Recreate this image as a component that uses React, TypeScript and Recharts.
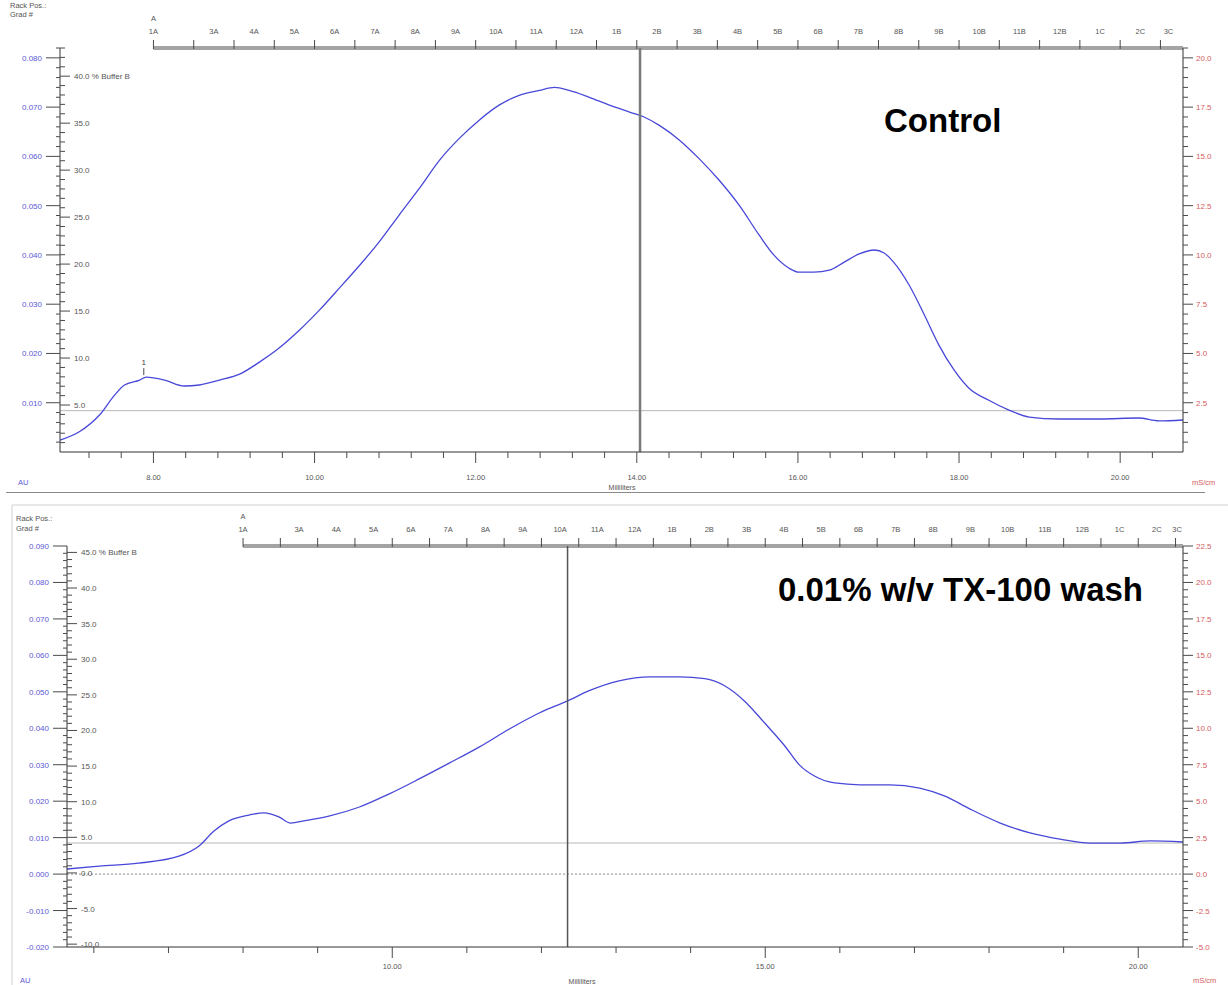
import React from "react";
import { ComposedChart, Line, XAxis, YAxis, ReferenceLine, ReferenceDot } from "recharts";

// ---- Control run (top trace): elution volume (ml) vs UV absorbance (AU)
const controlMl = [6.84, 7.08, 7.33, 7.52, 7.64, 7.83, 7.91, 8.14, 8.38, 8.57, 8.82, 9.07, 9.32, 9.56, 9.81, 10.06, 10.31, 10.56, 10.8, 11.05, 11.3, 11.55, 11.8, 12.04, 12.29, 12.54, 12.79, 12.98, 13.16, 13.41, 13.66, 13.91, 14.09, 14.28, 14.53, 14.77, 15.02, 15.27, 15.52, 15.7, 15.89, 16.01, 16.2, 16.39, 16.57, 16.76, 16.95, 17.07, 17.19, 17.38, 17.57, 17.75, 17.94, 18.12, 18.37, 18.62, 18.87, 19.24, 19.74, 20.23, 20.48, 20.78];
const controlAu = [0.0024, 0.0041, 0.0075, 0.0116, 0.0136, 0.0146, 0.0152, 0.0146, 0.0134, 0.0136, 0.0146, 0.0158, 0.0183, 0.0211, 0.0247, 0.0288, 0.0333, 0.0379, 0.0426, 0.0481, 0.0535, 0.0592, 0.0637, 0.0673, 0.0704, 0.0724, 0.0734, 0.074, 0.0734, 0.072, 0.0704, 0.069, 0.068, 0.0663, 0.0633, 0.0596, 0.0552, 0.0501, 0.044, 0.04, 0.0373, 0.0365, 0.0365, 0.0369, 0.0385, 0.0402, 0.041, 0.0404, 0.0385, 0.0339, 0.0278, 0.0217, 0.0166, 0.013, 0.0105, 0.0085, 0.0071, 0.0067, 0.0067, 0.0069, 0.0063, 0.0065];
const controlGradMl = [6.84, 20.78];
const controlGradB = [4.4, 4.4];

// ---- 0.01% TX-100 wash run (bottom trace)
const washMl = [5.64, 6.07, 6.6, 7.14, 7.41, 7.61, 7.81, 8.08, 8.28, 8.48, 8.64, 8.82, 9.15, 9.56, 9.96, 10.36, 10.77, 11.17, 11.57, 11.97, 12.35, 12.64, 13.04, 13.45, 13.85, 14.19, 14.46, 14.72, 14.99, 15.26, 15.46, 15.66, 15.93, 16.27, 16.67, 17.07, 17.41, 17.74, 18.15, 18.55, 18.95, 19.36, 19.76, 20.16, 20.6];
const washAu = [0.0014, 0.0022, 0.003, 0.0049, 0.0077, 0.0118, 0.0146, 0.0162, 0.0168, 0.0157, 0.014, 0.0146, 0.0159, 0.0184, 0.022, 0.0261, 0.0305, 0.0349, 0.0398, 0.0442, 0.0475, 0.0503, 0.053, 0.0541, 0.0541, 0.0536, 0.0516, 0.0475, 0.0415, 0.0352, 0.0299, 0.0269, 0.025, 0.0245, 0.0245, 0.0236, 0.0214, 0.0179, 0.014, 0.0113, 0.0096, 0.0085, 0.0085, 0.0091, 0.0088];
const washGradMl = [5.64, 20.6];
const washGradB = [4.2, 4.2];

// ---- fraction collector (rack positions)
const fractionBounds = [8.0, 8.5, 9.0, 9.5, 10.0, 10.5, 11.0, 11.5, 12.0, 12.5, 13.0, 13.5, 14.0, 14.5, 15.0, 15.5, 16.0, 16.5, 17.0, 17.5, 18.0, 18.5, 19.0, 19.5, 20.0, 20.5];
const fractionNames = ["1A", "3A", "4A", "5A", "6A", "7A", "8A", "9A", "10A", "11A", "12A", "1B", "2B", "3B", "4B", "5B", "6B", "7B", "8B", "9B", "10B", "11B", "12B", "1C", "2C", "3C"];
const fractionPos = [8.0, 8.75, 9.25, 9.75, 10.25, 10.75, 11.25, 11.75, 12.25, 12.75, 13.25, 13.75, 14.25, 14.75, 15.25, 15.75, 16.25, 16.75, 17.25, 17.75, 18.25, 18.75, 19.25, 19.75, 20.25, 20.6];

const FONT = "'Liberation Sans', Arial, Helvetica, sans-serif";
const INK = "#4a4a4a";
const TRACE = "#4848d8";
const AU_BLUE = "#5a5ad6";
const COND_RED = "#d65c5c";

const range = (a: number, b: number, s: number) => {
  const out: number[] = [];
  for (let v = a; v <= b + 1e-9; v += s) out.push(Math.round(v * 1e4) / 1e4);
  return out;
};
const isMul = (v: number, s: number) => Math.abs(v / s - Math.round(v / s)) < 1e-4;
const same = (a: number, b: number) => Math.abs(a - b) < 1e-6;

type PanelCfg = {
  width: number;
  height: number;
  left: number;
  right: number;
  top: number;
  bottom: number;
  xDomain: [number, number];
  xTicks: number[];
  xMajor: number;
  xLabelDy: number;
  auDomain: [number, number];
  auTicks: number[];
  bDomain: [number, number];
  bTicks: number[];
  sDomain: [number, number];
  sTicks: number[];
  ml: number[];
  au: number[];
  gradMl: number[];
  gradB: number[];
  cursorMl: number;
  cursorColor: string;
  cursorWidth: number;
  zeroLine: boolean;
  peak?: { ml: number; au: number; label: string };
};

function Panel(p: PanelCfg) {
  const rows = p.ml.map((ml, i) => ({ ml, au: p.au[i] }));
  const grad = p.gradMl.map((ml, i) => ({ ml, b: p.gradB[i] }));
  const xMax = p.xDomain[1];
  const auTop = p.auDomain[1];
  const bTop = Math.max(...p.bTicks.filter((v) => isMul(v, 5)));

  // last fraction label sits in the visible part of its interval
  const labelPos = fractionPos.map((v, i) => (i === fractionPos.length - 1 ? Math.min(v, xMax - 0.08) : v));
  const fracTicks = [...fractionBounds, ...labelPos.filter((v) => !fractionBounds.some((b) => same(b, v)))].sort((a, b) => a - b);

  const xTick = (props: any) => {
    const { x, y, payload } = props;
    const v = payload.value as number;
    const major = isMul(v, p.xMajor);
    return (
      <g>
        <line x1={x} x2={x} y1={y} y2={y + (major ? 11 : 6)} stroke={INK} />
        {major && (
          <text x={x} y={y + p.xLabelDy} textAnchor="middle" fontSize={7.5} fill="#555" fontFamily={FONT}>
            {v.toFixed(2)}
          </text>
        )}
      </g>
    );
  };

  const fracTick = (props: any) => {
    const { x, y, payload } = props;
    const v = payload.value as number;
    const bound = fractionBounds.some((b) => same(b, v));
    const li = labelPos.findIndex((b) => same(b, v));
    return (
      <g>
        {bound && <line x1={x} x2={x} y1={y - 8} y2={y + 1} stroke={INK} />}
        {li >= 0 && (
          <text x={x} y={y - 14} textAnchor="middle" fontSize={7.5} fill="#555" fontFamily={FONT}>
            {fractionNames[li]}
          </text>
        )}
        {li === 0 && (
          <text x={x} y={y - 27} textAnchor="middle" fontSize={7.5} fill="#555" fontFamily={FONT}>
            A
          </text>
        )}
      </g>
    );
  };

  const auTick = (props: any) => {
    const { x, y, payload } = props;
    const v = payload.value as number;
    const major = isMul(v, 0.01);
    return (
      <g>
        <line x1={x - (major ? 14 : 4)} x2={x} y1={y} y2={y} stroke={INK} />
        {major && (
          <text x={x - 18} y={y + 3} textAnchor="end" fontSize={8} fill={AU_BLUE} fontFamily={FONT}>
            {v.toFixed(3)}
          </text>
        )}
      </g>
    );
  };

  const bTick = (props: any) => {
    const { x, y, payload } = props;
    const v = payload.value as number;
    const major = isMul(v, 5);
    return (
      <g>
        <line x1={x} x2={x + (major ? 10 : 5)} y1={y} y2={y} stroke={INK} />
        {major && (
          <text x={x + 14} y={y + 3} textAnchor="start" fontSize={8} fill="#555" fontFamily={FONT}>
            {v.toFixed(1) + (same(v, bTop) ? "  % Buffer B" : "")}
          </text>
        )}
      </g>
    );
  };

  const sTick = (props: any) => {
    const { x, y, payload } = props;
    const v = payload.value as number;
    const major = isMul(v, 2.5);
    return (
      <g>
        <line x1={x} x2={x + (major ? 10 : 5)} y1={y} y2={y} stroke={INK} />
        {major && (
          <text x={x + 13} y={y + 3} textAnchor="start" fontSize={8} fill={COND_RED} fontFamily={FONT}>
            {v.toFixed(1)}
          </text>
        )}
      </g>
    );
  };

  return (
    <ComposedChart width={p.width} height={p.height} margin={{ top: 0, right: 0, bottom: 0, left: 0 }}>
      <XAxis
        xAxisId="ml"
        dataKey="ml"
        type="number"
        domain={p.xDomain}
        allowDataOverflow
        ticks={p.xTicks}
        interval={0}
        height={p.bottom}
        tickSize={0}
        tickMargin={0}
        tickLine={false}
        axisLine={{ stroke: "#333" }}
        tick={xTick}
      />
      <XAxis
        xAxisId="frac"
        dataKey="ml"
        orientation="top"
        type="number"
        domain={p.xDomain}
        allowDataOverflow
        ticks={fracTicks}
        interval={0}
        height={p.top}
        tickSize={0}
        tickMargin={0}
        tickLine={false}
        axisLine={false}
        tick={fracTick}
      />
      <YAxis
        yAxisId="au"
        orientation="left"
        type="number"
        width={p.left}
        domain={p.auDomain}
        allowDataOverflow
        ticks={p.auTicks}
        interval={0}
        tickSize={0}
        tickMargin={0}
        tickLine={false}
        axisLine={{ stroke: "#333" }}
        tick={auTick}
      />
      <YAxis
        yAxisId="b"
        orientation="left"
        mirror
        type="number"
        width={60}
        domain={p.bDomain}
        allowDataOverflow
        ticks={p.bTicks}
        interval={0}
        tickSize={0}
        tickMargin={0}
        tickLine={false}
        axisLine={false}
        tick={bTick}
      />
      <YAxis
        yAxisId="s"
        orientation="right"
        type="number"
        width={p.right}
        domain={p.sDomain}
        allowDataOverflow
        ticks={p.sTicks}
        interval={0}
        tickSize={0}
        tickMargin={0}
        tickLine={false}
        axisLine={{ stroke: "#333" }}
        tick={sTick}
      />
      <ReferenceLine
        xAxisId="ml"
        yAxisId="au"
        segment={[
          { x: fractionBounds[0], y: auTop },
          { x: xMax, y: auTop },
        ]}
        stroke="#a4a4a4"
        strokeWidth={4}
        ifOverflow="visible"
      />
      {p.zeroLine && (
        <ReferenceLine xAxisId="ml" yAxisId="au" y={0} stroke="#8a8a8a" strokeDasharray="2 2" />
      )}
      {/* gradient (% Buffer B) drawn against the fraction axis, same volume scale */}
      <Line
        xAxisId="frac"
        yAxisId="b"
        data={grad}
        dataKey="b"
        type="linear"
        stroke="#b8b8b8"
        strokeWidth={1}
        dot={false}
        isAnimationActive={false}
      />
      <Line
        xAxisId="ml"
        yAxisId="au"
        data={rows}
        dataKey="au"
        type="monotone"
        stroke={TRACE}
        strokeWidth={1.3}
        dot={false}
        isAnimationActive={false}
      />
      <ReferenceLine xAxisId="ml" yAxisId="au" x={p.cursorMl} stroke={p.cursorColor} strokeWidth={p.cursorWidth} />
      {p.peak && (
        <ReferenceDot
          xAxisId="ml"
          yAxisId="au"
          x={p.peak.ml}
          y={p.peak.au}
          r={0}
          shape={(s: any) => (
            <g>
              <line x1={s.cx} x2={s.cx} y1={s.cy - 2} y2={s.cy - 9} stroke={INK} />
              <text x={s.cx} y={s.cy - 12} textAnchor="middle" fontSize={8} fill="#444" fontFamily={FONT}>
                {p.peak!.label}
              </text>
            </g>
          )}
        />
      )}
    </ComposedChart>
  );
}

const small = { fontSize: 7.5, fontFamily: FONT, fill: "#555" };

export default function App() {
  return (
    <div style={{ position: "absolute", left: 0, top: 0, width: 1228, height: 985, background: "#fff", overflow: "hidden" }}>
      {/* Control */}
      <div style={{ position: "absolute", left: 0, top: 0, width: 1228, height: 492 }}>
        <Panel
          width={1228}
          height={492}
          left={60}
          right={45}
          top={48}
          bottom={40}
          xDomain={[6.84, 20.78]}
          xTicks={range(7.2, 20.4, 0.4)}
          xMajor={2}
          xLabelDy={28}
          auDomain={[0, 0.082]}
          auTicks={range(0.002, 0.082, 0.002)}
          bDomain={[0, 43]}
          bTicks={range(1, 43, 1)}
          sDomain={[0, 20.5]}
          sTicks={range(0.5, 20.5, 0.5)}
          ml={controlMl}
          au={controlAu}
          gradMl={controlGradMl}
          gradB={controlGradB}
          cursorMl={14.04}
          cursorColor="#7a7a7a"
          cursorWidth={2.5}
          zeroLine={false}
          peak={{ ml: 7.88, au: 0.0152, label: "1" }}
        />
        <svg style={{ position: "absolute", left: 0, top: 0 }} width={1228} height={492}>
          <text x={10} y={8} {...small}>Rack Pos.:</text>
          <text x={10} y={17} {...small}>Grad #</text>
          <text x={18} y={485} {...small} fill={AU_BLUE}>AU</text>
          <text x={1192} y={485} {...small} fill={COND_RED}>mS/cm</text>
          <text x={622} y={490} {...small} fontSize={7} textAnchor="middle">Milliliters</text>
          <text x={884} y={132} fontSize={33} fontWeight="bold" fontFamily={FONT} fill="#000">Control</text>
        </svg>
      </div>
      <div style={{ position: "absolute", left: 6, top: 492, width: 1199, height: 1, background: "#8a8a8a" }} />

      {/* 0.01% TX-100 wash */}
      <div style={{ position: "absolute", left: 0, top: 500, width: 1228, height: 485 }}>
        <Panel
          width={1228}
          height={485}
          left={67}
          right={45}
          top={46}
          bottom={38}
          xDomain={[5.64, 20.6]}
          xTicks={range(6, 20, 1)}
          xMajor={5}
          xLabelDy={22}
          auDomain={[-0.02, 0.09]}
          auTicks={range(-0.02, 0.09, 0.002)}
          bDomain={[-10.4, 45.9]}
          bTicks={range(-10, 45, 1)}
          sDomain={[-5, 22.5]}
          sTicks={range(-5, 22.5, 0.5)}
          ml={washMl}
          au={washAu}
          gradMl={washGradMl}
          gradB={washGradB}
          cursorMl={12.35}
          cursorColor="#555"
          cursorWidth={1.5}
          zeroLine={true}
        />
        <svg style={{ position: "absolute", left: 0, top: 0 }} width={1228} height={485}>
          <line x1={12} x2={1228} y1={5} y2={5} stroke="#d0d0d0" />
          <line x1={12} x2={12} y1={5} y2={485} stroke="#d0d0d0" />
          <text x={16} y={21} {...small}>Rack Pos.:</text>
          <text x={16} y={31} {...small}>Grad #</text>
          <text x={20} y={483} {...small} fill={AU_BLUE}>AU</text>
          <text x={1193} y={483} {...small} fill={COND_RED}>mS/cm</text>
          <text x={582} y={484} {...small} fontSize={7} textAnchor="middle">Milliliters</text>
          <text x={778} y={101} fontSize={33} fontWeight="bold" fontFamily={FONT} fill="#000">0.01% w/v TX-100 wash</text>
        </svg>
      </div>
    </div>
  );
}
